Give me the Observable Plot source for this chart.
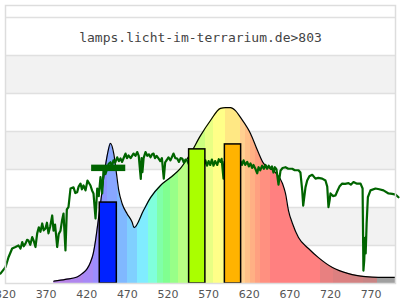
<!DOCTYPE html>
<html>
<head>
<meta charset="utf-8">
<script src="https://cdn.jsdelivr.net/npm/d3@7"></script>
<script src="https://cdn.jsdelivr.net/npm/@observablehq/plot@0.6"></script>
<style>
  html, body { margin: 0; padding: 0; background: #fff; }
</style>
</head>
<body>
<div id="chart"></div>
<script>
const title = "lamps.licht-im-terrarium.de>803";
const tickValues = [320, 370, 420, 470, 520, 570, 620, 670, 720, 770];
const gridValues = [1, 2, 3, 4, 5, 6, 7];
const stripeStarts = [1, 3, 5];

// lamp spectrum (outline)
const specNm  = [379.4, 393.8, 408.2, 414.4, 420.6, 424.6, 427.9, 430.8, 433.6, 436.9, 441.0, 445.2, 449.2, 453.3, 456.6, 459.4, 463.6, 469.8, 475.9, 478.2, 489.8, 498.5, 510.8, 523.1, 535.4, 547.7, 560.0, 572.3, 584.6, 590.8, 596.9, 603.0, 609.2, 621.5, 630.2, 637.6, 645.0, 652.3, 660.9, 664.6, 668.3, 673.2, 680.6, 692.9, 705.2, 722.4, 742.2, 763.1, 779.1, 800.0];
const specVal = [0.06, 0.11, 0.17, 0.26, 0.39, 0.56, 0.78, 1.13, 1.57, 2.10, 2.80, 3.37, 3.69, 3.41, 2.89, 2.45, 2.10, 1.83, 1.61, 1.47, 1.92, 2.26, 2.58, 2.79, 3.03, 3.42, 3.89, 4.29, 4.61, 4.63, 4.63, 4.55, 4.37, 3.95, 3.50, 3.16, 3.04, 2.92, 2.63, 2.37, 1.92, 1.58, 1.21, 0.92, 0.68, 0.42, 0.26, 0.18, 0.16, 0.16];

// colour bands of the spectrum fill
const bandStart = [379.4, 400, 416, 428, 436, 446, 458, 470, 482, 496, 507, 515, 523, 533, 545, 566, 576, 591, 609, 615, 621, 628, 634, 646, 708, 724, 745, 761, 778];
const bandEnd = 800;
const bandColor = ["#b683e6", "#b086ee", "#a889f6", "#9c8dff", "#8c96ff", "#88a6ff", "#80b8ff", "#80d0ff", "#80ecff", "#80ffdc", "#80ffa8", "#80ff90", "#98ff88", "#b8ff84", "#ccff80", "#e8ff84", "#ffff88", "#ffe884", "#ffd090", "#ffc088", "#ffb084", "#ffa080", "#ff9080", "#ff8080", "#e88080", "#dc8080", "#d28282", "#c88484", "#a0a0a0"];

// sunlight reference (green)
const sunNm = [313.8, 320.0, 323.7, 328.2, 332.3, 336.0, 338.5, 340.6, 342.5, 344.6, 346.5, 348.3, 350.5, 352.9, 354.8, 356.9, 359.0, 361.0, 363.0, 365.2, 367.0, 369.2, 371.0, 372.9, 375.0, 377.5, 379.1, 381.0, 383.6, 385.5, 387.7, 389.5, 391.4, 393.8, 395.5, 397.5, 400.0, 403.7, 406.0, 408.2, 410.0, 412.3, 414.0, 416.0, 418.5, 420.9, 424.6, 426.5, 428.3, 430.8, 432.9, 434.8, 436.9, 439.0, 440.6, 443.0, 445.2, 447.0, 449.2, 451.0, 452.9, 455.0, 457.5, 459.5, 461.5, 463.5, 465.2, 467.7, 469.5, 471.4, 474.0, 477.5, 480.0, 482.1, 484.0, 486.5, 487.5, 488.5, 490.0, 492.3, 494.5, 496.5, 498.5, 500.5, 502.2, 504.0, 506.0, 508.3, 510.5, 512.5, 514.8, 516.5, 518.5, 520.6, 523.0, 526.8, 529.0, 531.3, 533.5, 535.5, 537.5, 539.5, 541.5, 543.6, 545.5, 547.7, 550.0, 552.0, 554.0, 556.0, 558.0, 560.0, 562.0, 564.0, 566.0, 568.0, 570.0, 572.0, 574.0, 576.0, 578.0, 580.6, 582.5, 584.6, 586.0, 588.3, 589.5, 591.0, 592.9, 595.0, 597.0, 599.0, 600.6, 602.5, 604.5, 606.5, 609.2, 611.0, 613.0, 615.0, 617.5, 619.5, 621.5, 623.5, 625.2, 627.5, 629.8, 631.5, 633.5, 635.9, 638.0, 640.0, 642.0, 644.0, 646.2, 648.0, 649.8, 651.5, 653.5, 656.0, 658.5, 661.0, 664.6, 668.0, 672.9, 676.0, 680.6, 683.0, 685.2, 686.4, 689.2, 691.3, 694.0, 697.5, 701.5, 705.0, 709.8, 713.8, 716.0, 717.5, 719.0, 720.0, 723.0, 726.2, 728.2, 731.0, 734.4, 738.0, 742.2, 745.0, 748.3, 752.0, 757.0, 759.5, 760.5, 761.5, 762.5, 763.3, 764.5, 766.0, 769.2, 775.4, 780.0, 785.2, 791.4, 796.0, 800.0, 803.7];
const sunVal = [0.26, 0.43, 0.69, 0.92, 0.96, 1.00, 0.92, 1.09, 0.98, 1.05, 1.15, 1.13, 1.02, 1.22, 1.12, 0.96, 1.32, 1.48, 1.36, 1.58, 1.40, 1.45, 1.60, 1.32, 1.50, 1.79, 1.39, 1.55, 0.96, 1.30, 1.39, 1.65, 1.84, 0.87, 1.95, 2.01, 2.50, 2.53, 2.38, 2.40, 2.55, 2.63, 2.48, 2.58, 2.45, 2.71, 2.58, 2.45, 2.37, 1.71, 2.50, 2.30, 2.80, 2.37, 2.97, 2.88, 3.03, 3.15, 3.19, 3.08, 3.24, 3.18, 3.32, 3.22, 3.29, 3.20, 3.29, 3.42, 3.30, 3.37, 3.30, 3.42, 3.36, 3.46, 3.36, 2.75, 3.30, 2.93, 3.30, 3.46, 3.36, 3.40, 3.32, 3.40, 3.42, 3.30, 3.36, 3.29, 3.22, 3.30, 2.76, 3.19, 3.25, 3.32, 3.24, 3.42, 3.30, 3.29, 3.20, 3.30, 3.29, 3.18, 3.26, 3.24, 3.14, 3.18, 3.30, 3.12, 3.28, 3.10, 3.26, 3.14, 3.27, 3.12, 3.24, 3.10, 3.22, 3.12, 3.26, 3.10, 3.22, 3.12, 3.27, 3.20, 3.28, 2.76, 3.20, 3.10, 3.24, 3.12, 3.24, 3.14, 3.22, 3.10, 3.24, 3.12, 3.22, 3.12, 3.24, 3.12, 3.20, 3.08, 3.16, 3.04, 3.12, 3.02, 2.90, 3.06, 2.98, 3.10, 3.02, 3.12, 3.02, 3.10, 3.02, 3.08, 2.92, 3.06, 3.00, 2.60, 2.97, 3.04, 3.06, 3.02, 3.02, 2.98, 2.98, 2.92, 2.45, 2.05, 2.53, 2.71, 2.82, 2.86, 2.76, 2.78, 2.76, 2.71, 2.55, 2.01, 2.20, 2.37, 2.30, 2.32, 2.42, 2.55, 2.63, 2.62, 2.64, 2.60, 2.67, 2.63, 2.63, 2.50, 0.34, 0.60, 1.20, 0.79, 1.60, 2.27, 2.45, 2.50, 2.48, 2.45, 2.37, 2.36, 2.34, 2.27];

// LED bars
const barX1 = [436, 546, 590];
const barX2 = [457, 566, 610];
const barVal = [2.13, 3.53, 3.66];
const barColor = ["#0022ff", "#aaff00", "#ffb300"];

// dark green marker
const markerX1 = 426, markerX2 = 468, markerY = 3.03, markerHalf = 0.085;

const spec = specNm.map((nm, i) => ({nm, v: specVal[i]}));
const sun = sunNm.map((nm, i) => ({nm, v: sunVal[i]}));
const bars = barVal.map((v, i) => ({x1: barX1[i], x2: barX2[i], v, color: barColor[i]}));
const marker = [{x1: markerX1, x2: markerX2, y1: markerY - markerHalf, y2: markerY + markerHalf}];

const plot = Plot.plot({
  width: 400,
  height: 300,
  marginLeft: 5,
  marginRight: 5,
  marginTop: 5,
  marginBottom: 17,
  style: {fontFamily: "DejaVu Sans", fontSize: "11px", color: "#555", background: "#fff"},
  x: {domain: [320, 800], ticks: tickValues, tickSize: 0, tickPadding: 7, tickFormat: d => String(d), label: null},
  y: {domain: [0, 7.316], axis: null},
  color: {type: "identity"},
  marks: [
    Plot.rect(stripeStarts, {y1: d => d, y2: d => d + 1, fill: "#f2f2f2"}),
    Plot.ruleY(gridValues, {stroke: "#e0e0e0", strokeWidth: 1.5}),
    Plot.areaY(spec, {x: "nm", y: "v", fill: "url(#specgrad)", curve: "monotone-x"}),
    Plot.lineY(spec, {x: "nm", y: "v", stroke: "#000", strokeWidth: 1.2, curve: "monotone-x"}),
    Plot.lineY(sun, {x: "nm", y: "v", stroke: "#006400", strokeWidth: 2.2}),
    Plot.rect(bars, {x1: "x1", x2: "x2", y1: 0, y2: "v", fill: "color", stroke: "#000", strokeWidth: 1.5}),
    Plot.rect(marker, {x1: "x1", x2: "x2", y1: "y1", y2: "y2", fill: "#006400"}),
    Plot.text([title], {frameAnchor: "top", dy: 27, fontFamily: "DejaVu Sans Mono", fontSize: 13, fill: "#444"}),
    Plot.frame({stroke: "#dddddd", strokeWidth: 1.5})
  ]
});

// gradient for the spectrum fill (banded)
const svg = d3.select(plot.tagName.toLowerCase() === "svg" ? plot : plot.querySelector("svg"));
const defs = svg.insert("defs", ":first-child");
const grad = defs.append("linearGradient")
  .attr("id", "specgrad")
  .attr("gradientUnits", "objectBoundingBox")
  .attr("x1", 0).attr("x2", 1).attr("y1", 0).attr("y2", 0);
const lo = specNm[0], hi = specNm[specNm.length - 1];
bandStart.forEach((s, i) => {
  const e = i + 1 < bandStart.length ? bandStart[i + 1] : bandEnd;
  grad.append("stop").attr("offset", Math.max(0, (s - lo) / (hi - lo))).attr("stop-color", bandColor[i]);
  grad.append("stop").attr("offset", Math.min(1, (e - lo) / (hi - lo))).attr("stop-color", bandColor[i]);
});

document.getElementById("chart").appendChild(plot);
</script>
</body>
</html>
